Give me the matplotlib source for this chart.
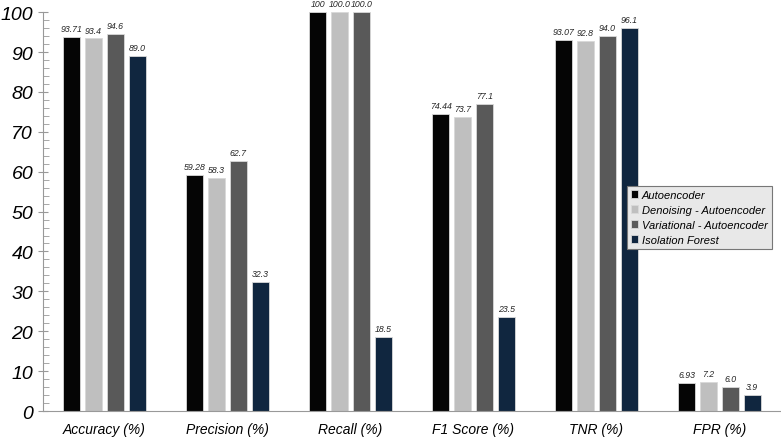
import numpy as np
import matplotlib.pyplot as plt

plt.rcParams['font.family'] = ['Liberation Sans', 'DejaVu Sans']
plt.rcParams['font.style'] = 'italic'

metrics = ['Accuracy (%)', 'Precision (%)', 'Recall (%)', 'F1 Score (%)', 'TNR (%)', 'FPR (%)']
models = ['Autoencoder', 'Denoising - Autoencoder', 'Variational - Autoencoder', 'Isolation Forest']
ae = [93.71, 59.28, 100, 74.44, 93.07, 6.93]
dae = [93.4, 58.3, 100.0, 73.7, 92.8, 7.2]
vae = [94.6, 62.7, 100.0, 77.1, 94.0, 6.0]
iso = [89.0, 32.3, 18.5, 23.5, 96.1, 3.9]
labels_ae = ['93.71', '59.28', '100', '74.44', '93.07', '6.93']
labels_dae = ['93.4', '58.3', '100.0', '73.7', '92.8', '7.2']
labels_vae = ['94.6', '62.7', '100.0', '77.1', '94.0', '6.0']
labels_iso = ['89.0', '32.3', '18.5', '23.5', '96.1', '3.9']
colors = ['#050505', '#bfbfbf', '#595959', '#10263f']

fig = plt.figure(figsize=(7.81, 4.39), dpi=100)
ax = fig.add_axes([0.055, 0.0615, 0.945, 0.9085])

x = np.arange(len(metrics))
w = 0.138
step = 0.178
series = [ae, dae, vae, iso]
texts = [labels_ae, labels_dae, labels_vae, labels_iso]
for i, (vals, lab) in enumerate(zip(series, texts)):
    pos = x + (i - 1.5) * step
    bars = ax.bar(pos, vals, w, color=colors[i], edgecolor='#d9d9d9', linewidth=0.6,
                  label=models[i])
    for b, t in zip(bars, lab):
        ax.text(b.get_x() + b.get_width() / 2, b.get_height() + 1.0, t,
                ha='center', va='bottom', fontsize=6.3, color='#262626')

ax.set_xlim(-0.5, len(metrics) - 0.5)
ax.set_ylim(0, 100)
ax.set_xticks(x)
ax.set_xticklabels(metrics, fontsize=10)
ax.set_yticks(range(0, 101, 10))
ax.set_yticks(range(0, 101, 2), minor=True)
ax.tick_params(axis='y', labelsize=14, direction='inout', length=7, color='#999999')
ax.tick_params(axis='y', which='minor', direction='in', length=4, color='#999999')
ax.tick_params(axis='x', length=0, pad=8)
for s in ['top', 'right']:
    ax.spines[s].set_visible(False)
ax.spines['left'].set_color('#999999')
ax.spines['bottom'].set_color('#999999')

leg = fig.legend(loc='upper right', bbox_to_anchor=(0.995, 0.587),
                 prop={'style': 'italic', 'size': 8}, fancybox=False,
                 handlelength=0.7, handleheight=0.7, handletextpad=0.3,
                 borderpad=0.35, labelspacing=0.45, framealpha=1)
leg.get_frame().set_facecolor('#e8e8e8')
leg.get_frame().set_edgecolor('#777777')
leg.get_frame().set_linewidth(0.8)

fig.savefig('out.png', dpi=100)
